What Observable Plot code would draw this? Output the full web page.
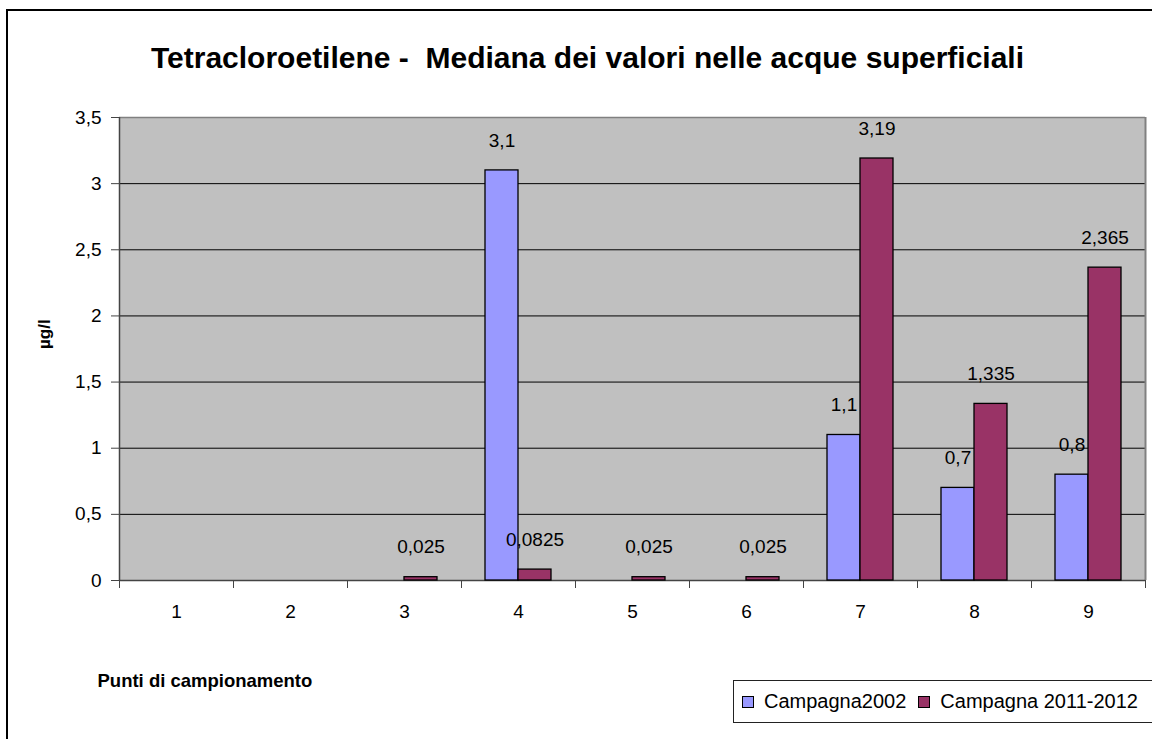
<!DOCTYPE html>
<html>
<head>
<meta charset="utf-8">
<script src="https://cdn.jsdelivr.net/npm/d3@7"></script>
<script src="https://cdn.jsdelivr.net/npm/@observablehq/plot@0.6"></script>
<style>
  html, body { margin: 0; padding: 0; background: #fff; overflow: hidden; }
  #page { position: relative; width: 1152px; height: 739px; overflow: hidden; font-family: "Liberation Sans", Arial, sans-serif; }
  #border { position: absolute; left: 6px; top: 9px; width: 1170px; height: 760px; border: 2px solid #000; box-sizing: border-box; }
  #title { position: absolute; left: 0; top: 39px; width: 1175px; text-align: center; font-weight: bold; font-size: 30px; line-height: 38px; color: #000; }
  .layer { position: absolute; left: 0; top: 100px; }
  #legend { position: absolute; left: 733px; top: 680px; width: 440px; height: 43px; box-sizing: border-box; border: 1px solid #222; background: #fff; display: flex; align-items: center; font-size: 20px; color: #000; padding-left: 8px; }
  .sw { width: 12px; height: 12px; border: 1px solid #000; box-sizing: border-box; margin-right: 10px; display: inline-block; }
  .item { display: flex; align-items: center; margin-right: 12px; }
</style>
</head>
<body>
<div id="page">
  <div id="border"></div>
  <div id="title">Tetracloroetilene -&nbsp; Mediana dei valori nelle acque superficiali</div>
  <div id="under" class="layer"></div>
  <div id="over" class="layer"></div>
  <div id="legend"></div>
</div>
<script>
// ---- data ----
const categories = ["1", "2", "3", "4", "5", "6", "7", "8", "9"];
const seriesNames = ["Campagna2002", "Campagna 2011-2012"];
const campagna2002 = [null, null, null, 3.1, null, null, 1.1, 0.7, 0.8];
const campagna2011 = [null, null, 0.025, 0.0825, 0.025, 0.025, 3.19, 1.335, 2.365];
const yTicks = [0, 0.5, 1, 1.5, 2, 2.5, 3, 3.5];
const seriesColors = ["#9999FF", "#993366"];
const yLabel = "µg/l";
const xLabel = "Punti di campionamento";

// ---- layout ----
const W = 1152, H = 600;
const mL = 119, mR = 7, mT = 17, mB = 120;
const barWidth = 33;
const bandWidth = (W - mL - mR) / categories.length;
const paddingOuter = (bandWidth / barWidth - seriesNames.length) / 2;
const fmt = v => String(v).replace(".", ",");
const font = "'Liberation Sans', Arial, sans-serif";

const rows = categories.flatMap((c, i) => [
  {cat: c, series: seriesNames[0], value: campagna2002[i]},
  {cat: c, series: seriesNames[1], value: campagna2011[i]}
]).filter(d => d.value != null);

const catPos = categories.map((c, i) => i + 1);
const boundaries = [0, ...catPos].map(p => p + 0.5);

const under = Plot.plot({
  width: W, height: H,
  marginLeft: mL, marginRight: mR, marginTop: mT, marginBottom: mB,
  style: {fontFamily: font, fontSize: "19px", color: "#000", background: "transparent", overflow: "visible"},
  x: {type: "linear", domain: [0.5, categories.length + 0.5]},
  y: {domain: [0, 3.5]},
  marks: [
    Plot.frame({fill: "#c0c0c0", stroke: "none"}),
    Plot.gridY(yTicks.slice(1, -1), {stroke: "#000", strokeOpacity: 1, strokeWidth: 1}),
    Plot.ruleY([3.5], {stroke: "#808080", strokeWidth: 1.5}),
    Plot.ruleX([categories.length + 0.5], {stroke: "#808080", strokeWidth: 2}),
    Plot.axisY(yTicks, {tickSize: 8, tickPadding: 10, tickFormat: fmt, label: null, stroke: "#444", fontSize: 19}),
    Plot.axisX(catPos, {tickSize: 0, tickPadding: 24, tickFormat: p => categories[p - 1], label: null, fontSize: 19}),
    Plot.axisX(boundaries, {tickSize: 8, text: null, label: null, stroke: "#444"}),
    Plot.ruleX([0.5], {stroke: "#444", strokeWidth: 1.5}),
    Plot.ruleY([0], {stroke: "#444", strokeWidth: 1.5}),
    Plot.text([yLabel], {frameAnchor: "left", rotate: -90, dx: -75, text: d => d, fontWeight: "bold", fontSize: 17}),
    Plot.text([xLabel], {frameAnchor: "bottom-left", textAnchor: "start", dx: -22, dy: 106, text: d => d, fontWeight: "bold", fontSize: 18.5})
  ]
});
document.getElementById("under").appendChild(under);

const over = Plot.plot({
  width: W, height: H,
  marginLeft: mL, marginRight: mR, marginTop: mT, marginBottom: mB,
  style: {fontFamily: font, fontSize: "19px", color: "#000", background: "transparent", overflow: "visible"},
  fx: {domain: categories, padding: 0, axis: null},
  x: {domain: seriesNames, paddingInner: 0, paddingOuter: paddingOuter, axis: null},
  y: {domain: [0, 3.5], axis: null},
  color: {domain: seriesNames, range: seriesColors},
  marks: [
    Plot.barY(rows, {fx: "cat", x: "series", y: "value", fill: "series", stroke: "#000", strokeWidth: 1.3}),
    Plot.text(rows, {fx: "cat", x: "series", y: "value", text: d => fmt(d.value), dy: -30, fontSize: 19})
  ]
});
document.getElementById("over").appendChild(over);

// ---- legend ----
const legend = document.getElementById("legend");
seriesNames.forEach((s, i) => {
  const item = document.createElement("span");
  item.className = "item";
  const sw = document.createElement("span");
  sw.className = "sw";
  sw.style.background = seriesColors[i];
  const t = document.createElement("span");
  t.textContent = s;
  item.appendChild(sw);
  item.appendChild(t);
  legend.appendChild(item);
});
</script>
</body>
</html>
